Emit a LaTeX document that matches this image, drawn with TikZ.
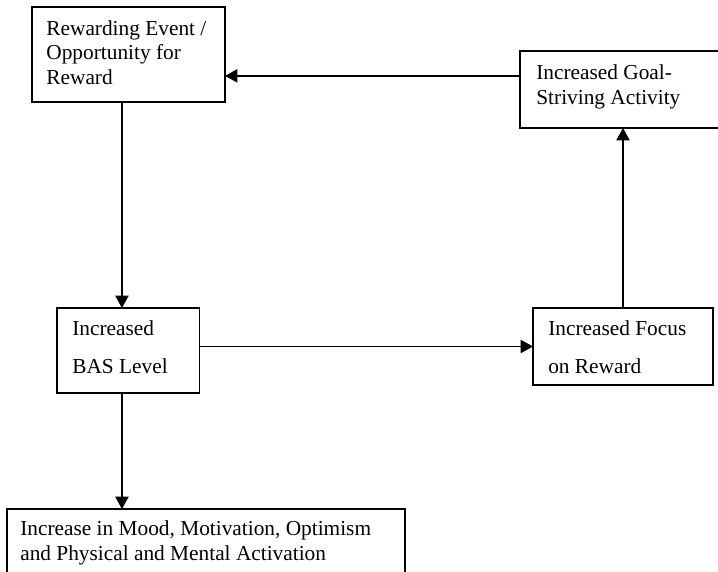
\documentclass[tikz,border=0pt]{standalone}
\usepackage{fontspec}
\setmainfont{Liberation Serif}
\usetikzlibrary{arrows.meta, positioning}

\begin{document}
\begin{tikzpicture}[x=0.5625pt, y=-0.5625pt, >={Triangle[length=7pt, width=7.5pt]},
    box/.style={draw, line width=0.75pt, inner sep=0pt, outer sep=0pt, anchor=north west},
    txt/.style={font=\fontsize{12}{13.8}\selectfont, align=left, inner sep=0pt}]
    \useasboundingbox (0,0) rectangle (718,572);

    % Boxes
    \node [box, minimum width=108.56pt, minimum height=53.44pt] (reward) at (32,7) {};
    \node [box, minimum width=118.13pt, minimum height=43.31pt] (goal) at (520,51) {};
    \node [box, minimum width=80.16pt, minimum height=47.81pt] (bas) at (57,308) {};
    \node [box, minimum width=101.25pt, minimum height=43.31pt] (focus) at (533,308) {};
    \node [box, minimum width=223.88pt, minimum height=45pt] (mood) at (7,509) {};

    % Texts
    \node [txt, below right=6.1pt and 7.9pt of reward.north west] (reward-txt)
        {\strut Rewarding Event /\\Opportunity for\\Reward};
    \node [txt, below right=6.4pt and 9pt of goal.north west] (goal-txt)
        {\strut Increased Goal-\\Striving Activity};
    \node [txt, below right=5.6pt and 8.4pt of bas.north west] (bas-txt)
        {\strut Increased\\[7.6pt]BAS Level};
    \node [txt, below right=5.6pt and 8.4pt of focus.north west] (focus-txt)
        {\strut Increased Focus\\[7.6pt]on Reward};
    \node [txt, below right=5.1pt and 7.3pt of mood.north west] (mood-txt)
        {\strut Increase in Mood, Motivation, Optimism\\and Physical and Mental Activation};

    % Connections
    \coordinate (g-in) at ([yshift=-14pt]goal.north west);
    \coordinate (r-out) at ([xshift=50.6pt]reward.south west);
    \draw [->, line width=0.75pt] (g-in) -- (g-in -| reward.east);
    \draw [->, line width=0.75pt] (r-out) -- (r-out |- bas.north);
    \draw [->, line width=0.75pt] (r-out |- bas.south) -- (r-out |- mood.north);
    \draw [->, line width=0.75pt] (bas.east |- focus.west) -- (focus.west);
    \draw [->, line width=0.75pt] (focus.north) -- (focus.north |- goal.south);
\end{tikzpicture}
\end{document}
